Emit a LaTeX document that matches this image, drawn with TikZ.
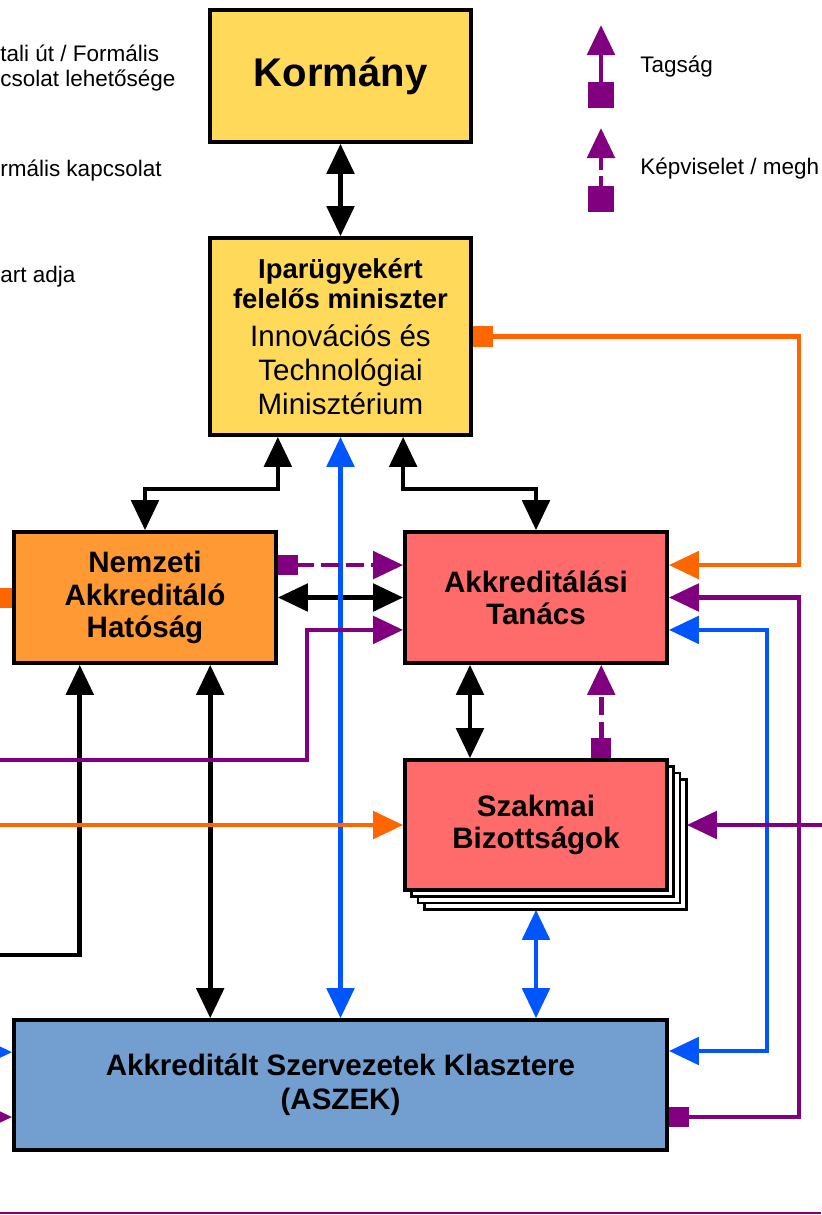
\documentclass[tikz,border=0pt]{standalone}
\usepackage{fontspec}
\setmainfont{Liberation Sans}
\usepackage{tikz}
\usetikzlibrary{arrows.meta}
\usepackage{xcolor}

\definecolor{kyellow}{RGB}{255,217,90}
\definecolor{korange}{RGB}{255,153,51}
\definecolor{kred}{RGB}{255,107,107}
\definecolor{kblue}{RGB}{114,159,207}
\definecolor{lorange}{RGB}{255,102,0}
\definecolor{lpurple}{RGB}{128,0,128}
\definecolor{lblue}{RGB}{0,85,255}

\newcommand{\regtxt}{\fontsize{21}{24}\selectfont\mdseries}

\tikzset{
	tri/.tip={Triangle[length=0.75cm,width=0.68cm]},
	sq/.tip={Square[length=0.5cm,width=0.5cm]},
	legsq/.tip={Square[length=0.65cm,width=0.65cm]},
	box/.style={draw, line width=2.6pt, inner sep=0pt, align=center, font=\fontsize{21}{23}\selectfont\bfseries},
	conn/.style={line width=3.3pt},
	dsh/.style={conn, dash pattern=on 0.45cm off 0.18cm},
	legendtext/.style={anchor=base west, inner sep=0pt, font=\fontsize{16}{18}\selectfont},
}

\begin{document}
\begin{tikzpicture}[x=0.025cm, y=-0.025cm]
	\useasboundingbox[fill=white] (0,0) rectangle (821,1215);

	% left legend (cut at the edge)
	\node[legendtext] (formA) at (0,62) {tali út / Formális};
	\node[legendtext] (formB) at (0,87) {csolat lehetősége};
	\node[legendtext] (inform) at (0,177) {rmális kapcsolat};
	\node[legendtext] (adja) at (0,282) {art adja};

	% right legend
	\coordinate (tagA) at (601,108);
	\coordinate (tagB) at (601,25);
	\draw[conn, lpurple, legsq-tri] (tagA) -- (tagB);
	\node[legendtext] (tagsag) at (640,73) {Tagság};
	\coordinate (kepA) at (601,212);
	\coordinate (kepB) at (601,128);
	\draw[conn, lpurple, legsq-tri, dash pattern=on 0.3cm off 0.15cm] (kepA) -- (kepB);
	\node[legendtext] (kepv) at (640,175) {Képviselet / megh};

	% boxes
	\node[box, fill=kyellow, minimum width=6.525cm, minimum height=3.3cm, font=\fontsize{28.5}{32}\selectfont\bfseries] (kormany) at (340.5,76) {Kormány};
	\node[box, fill=kyellow, minimum width=6.525cm, minimum height=4.925cm, font=\fontsize{19.5}{24}\selectfont\bfseries] (miniszter) at (340.5,336.5) {Iparügyekért\\[-2.7pt] felelős miniszter\\[3pt] \regtxt Innovációs és\\ \regtxt Technológiai\\ \regtxt Minisztérium};
	\node[box, fill=korange, minimum width=6.55cm, minimum height=3.275cm] (nah) at (145,597.5) {Nemzeti\\ Akkreditáló\\ Hatóság};
	\node[box, fill=kred, minimum width=6.55cm, minimum height=3.275cm] (tanacs) at (536,597.5) {Akkreditálási\\ Tanács};
	\foreach \k in {3,2,1}
		\draw[line width=2pt, fill=white] (405+6.5*\k,760+6.5*\k) rectangle ++(262,130);
	\node[box, fill=kred, minimum width=6.55cm, minimum height=3.25cm] (szakmai) at (536,825) {Szakmai\\ Bizottságok};
	\node[box, fill=kblue, minimum width=16.325cm, minimum height=3.25cm, font=\fontsize{21}{24.2}\selectfont\bfseries] (aszek) at (340.5,1085) {Akkreditált Szervezetek Klasztere\\ (ASZEK)};

	% black links
	\draw[conn, tri-tri] (kormany) -- (miniszter);
	\draw[conn, tri-tri] (miniszter.south -| nah.east) -- ++(0,52) -| (nah.north);
	\draw[conn, tri-tri] (miniszter.south -| tanacs.west) -- ++(0,52) -| (tanacs.north);
	\draw[conn, tri-tri] (nah) -- (tanacs);
	\draw[conn, tri-tri] ([xshift=1.63cm]nah.south) -- ([xshift=1.63cm]nah.south |- aszek.north);
	\draw[conn, tri-tri] ([xshift=-1.65cm]tanacs.south) -- ([xshift=-1.65cm]szakmai.north);
	\coordinate (leftK) at (-10,955);
	\draw[conn, -tri] (leftK) -| ([xshift=-1.63cm]nah.south);

	% blue links
	\draw[conn, lblue, tri-tri] (miniszter.south) -- (miniszter.south |- aszek.north);
	\draw[conn, lblue, tri-tri] ([yshift=-0.45cm]szakmai.south) -- (szakmai.south |- aszek.north);
	\draw[conn, lblue, tri-tri] ([yshift=-0.81cm]tanacs.east) -- ++(98,0) |- ([yshift=0.85cm]aszek.east);
	\coordinate (leftB) at (-20,1052);
	\draw[conn, lblue, -tri] (leftB) -- ([yshift=0.82cm]aszek.west);

	% orange links
	\draw[conn, lorange, sq-tri] (miniszter.east) -- ++(326,0) |- ([yshift=0.81cm]tanacs.east);
	\coordinate (leftO) at (-10,825);
	\draw[conn, lorange, -tri] (leftO) -- (szakmai.west);
	\coordinate (leftN) at (-40,597.5);
	\draw[conn, lorange, sq-] (nah.west) -- (leftN);

	% purple links
	\draw[dsh, lpurple, sq-tri] ([yshift=0.81cm]nah.east) -- ([yshift=0.81cm]tanacs.west);
	\draw[dsh, lpurple, sq-tri] ([xshift=1.63cm]szakmai.north) -- ([xshift=1.63cm]tanacs.south);
	\coordinate (leftP) at (-10,760);
	\draw[conn, lpurple, -tri] (leftP) -- ++(317,0) |- ([yshift=-0.81cm]tanacs.west);
	\coordinate (rightP) at (830,825);
	\draw[conn, lpurple, -tri] (rightP) -- ([xshift=0.45cm]szakmai.east);
	\draw[conn, lpurple, sq-tri] ([yshift=-0.8cm]aszek.east) -- ++(130,0) |- (tanacs.east);
	\coordinate (leftQ) at (-20,1117);
	\draw[conn, lpurple, -tri] (leftQ) -- ([yshift=-0.8cm]aszek.west);

	\draw[lpurple, line width=1.4pt] (0,1213) -- (821,1213);
\end{tikzpicture}
\end{document}
